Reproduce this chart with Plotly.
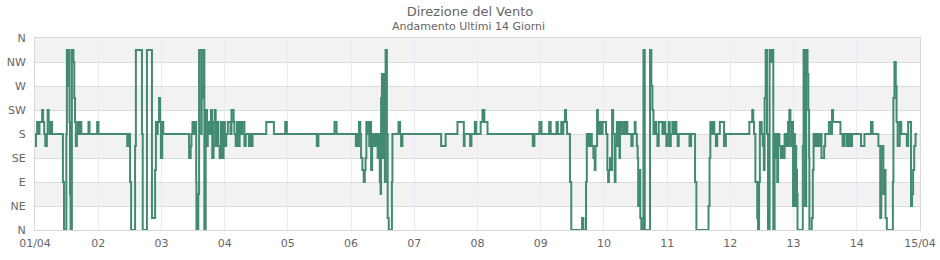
import datetime as dt
import plotly.graph_objects as go

# Hours since 01/04 00:00 at which the wind direction changes
hours = [
    0.0, 0.4, 0.8, 1.4, 1.7, 2.7, 3.1, 3.5, 3.9, 4.5, 4.8, 5.2, 5.6, 6.0, 6.5,
    10.6, 11.0, 11.9, 12.1, 12.6, 12.8, 13.1, 13.3, 13.5, 14.0, 14.6, 14.9, 15.2, 15.5, 15.9,
    16.3, 16.7, 17.2, 17.6, 20.3, 20.7, 23.6, 24.1, 35.0, 35.4, 36.1, 36.5, 38.0, 38.3, 40.6,
    40.9, 42.5, 44.4, 45.6, 45.9, 46.3, 46.6, 47.1, 47.5, 47.8, 48.3, 48.7,
    58.5, 59.1, 59.4, 59.8, 60.3, 60.8, 61.2, 61.3, 62.0, 62.3, 63.1, 63.3, 63.6, 63.9, 64.3,
    64.8, 65.0, 65.3, 65.6, 66.3, 66.8, 67.3, 67.8, 68.3, 68.6, 69.1, 69.6, 70.1, 70.6, 71.1,
    71.6, 72.1, 72.6, 73.2, 74.2, 74.6, 75.4, 75.7, 76.2, 76.7, 77.2, 77.7, 78.2, 78.7, 79.5,
    80.0, 81.2, 81.6, 82.1, 82.6, 87.8, 90.7, 95.0, 95.6,
    107.0, 107.6, 113.7, 114.5, 121.8, 122.3, 122.7, 123.0, 123.5, 123.8, 124.3, 124.8, 125.2,
    125.5, 125.8, 126.3, 126.6, 126.9, 127.3, 127.6, 128.0, 128.3, 128.6, 129.0, 129.4, 129.8,
    130.1, 130.5, 130.9, 131.2, 131.4, 131.7, 132.0, 132.3, 132.5, 132.8, 133.1, 133.6, 133.9,
    134.3, 135.5, 135.7, 138.0, 138.6, 139.0, 139.5,
    154.2, 155.9, 160.4, 162.8, 163.1, 165.2, 165.7, 167.0, 167.5, 169.2, 169.9, 170.6, 171.8,
    189.0, 189.6, 191.5, 192.3,
    195.2, 195.8, 198.0, 198.5, 199.8, 200.3, 200.6, 201.2, 201.6, 202.0, 203.1, 203.6, 207.7,
    208.2, 209.2, 209.5, 209.8, 210.2, 210.6, 211.0, 211.4, 212.0, 212.5, 212.8, 213.4, 213.7,
    214.0, 214.4, 214.9, 215.5, 216.8, 217.3, 217.6, 217.9, 218.3, 218.6, 219.1, 219.5, 220.1,
    220.4, 220.9, 221.4, 221.9, 222.1, 222.6, 223.4, 223.9, 224.4, 224.9, 226.4, 226.9, 227.7,
    228.0, 228.5, 228.8, 229.0, 229.5, 229.8, 230.2, 231.0, 231.5, 233.5, 234.0, 234.4, 234.8,
    235.3, 235.8, 236.3, 236.8, 238.2, 238.8, 239.3, 239.7,
    240.2, 240.6, 241.0, 241.4, 242.0, 242.6, 243.0, 243.5, 244.0, 244.4, 248.5, 249.1, 250.6,
    251.1, 255.7, 256.1, 256.4, 257.0, 257.4, 257.9, 258.5, 259.0, 260.0, 261.6, 262.3, 271.2,
    272.3, 272.7, 273.0, 273.5, 274.2, 274.5, 274.9, 275.2, 275.9, 276.3, 276.7, 277.0, 277.4,
    277.9, 278.3, 278.9, 279.6, 279.9, 280.3, 280.8, 281.1, 281.4, 281.8, 282.1, 282.6, 283.1,
    283.6, 284.1, 284.6, 285.1, 285.5, 285.9, 286.2, 286.4, 286.8, 287.2, 287.5, 287.8,
    288.0, 288.3, 288.5, 288.8, 289.0, 289.3, 289.5, 291.5, 291.8, 292.3, 292.8, 293.3, 293.6,
    293.9, 294.0, 294.9, 295.3, 295.6, 296.2, 296.7, 297.4, 298.0, 298.6, 299.6, 300.0, 301.4,
    302.2, 302.6, 303.0, 305.8, 306.6, 307.3, 308.2, 308.6, 309.0, 309.5, 309.8, 310.2, 313.6,
    314.9, 317.4, 318.0, 320.2, 320.9, 321.3, 321.7, 322.1, 322.4, 322.9, 323.4, 325.7, 325.9,
    326.3, 326.8, 327.1, 327.5, 328.3, 328.9, 331.0, 331.5, 332.6, 333.0, 333.4, 333.8, 334.3,
    334.9,
]

# Direction on a 16-point compass index (0 = N, 4 = E, 8 = S, 12 = W, 16 = N)
points = [
    7, 8, 9, 8, 9, 10, 9, 8, 7, 8, 10, 9, 8, 9, 8,
    4, 0, 8, 15, 12, 15, 9, 3, 0, 15, 14, 11, 9, 7, 8,
    9, 8, 9, 8, 9, 8, 9, 8, 7, 8, 4, 0, 7, 15, 8,
    0, 15, 1, 5, 9, 8, 9, 11, 9, 6, 9, 8,
    6, 7, 8, 9, 8, 9, 4, 0, 3, 15, 8, 12, 11, 15, 0,
    7, 10, 7, 9, 8, 10, 6, 9, 10, 7, 9, 7, 6, 9, 6,
    9, 7, 8, 9, 8, 10, 9, 8, 7, 9, 7, 9, 8, 9, 7,
    8, 7, 8, 7, 8, 9, 8, 9, 8,
    7, 8, 9, 8, 7, 8, 7, 9, 8, 6, 5, 4, 5,
    6, 9, 8, 9, 7, 9, 5, 7, 8, 7, 8, 7, 8,
    6, 8, 4, 3, 11, 13, 6, 13, 10, 4, 15, 8, 1,
    0, 4, 8, 9, 8, 7, 8,
    7, 8, 9, 7, 8, 7, 8, 9, 8, 9, 10, 9, 8,
    7, 8, 9, 8,
    9, 8, 9, 8, 9, 8, 9, 10, 9, 8, 4, 0, 1,
    0, 4, 8, 7, 8, 7, 8, 7, 6, 5, 7, 10, 9,
    8, 9, 8, 9, 8, 5, 4, 5, 6, 5, 10, 8, 4,
    7, 9, 7, 6, 9, 8, 9, 8, 9, 8, 7, 8, 9,
    8, 7, 6, 2, 5, 1, 0, 15, 0, 15, 12, 10, 8,
    9, 8, 7, 9, 8, 9, 8, 7,
    8, 9, 7, 8, 9, 8, 9, 8, 7, 8, 7, 8, 4,
    0, 2, 6, 9, 8, 9, 8, 7, 8, 9, 7, 8, 9,
    10, 9, 8, 4, 1, 0, 4, 9, 8, 7, 5, 11, 15,
    8, 0, 15, 14, 15, 0, 8, 6, 8, 4, 8, 7, 6,
    7, 6, 8, 7, 8, 9, 7, 10, 9, 7, 9, 2,
    4, 8, 2, 7, 5, 3, 0, 7, 15, 2, 15, 13, 10,
    6, 0, 1, 5, 8, 7, 8, 7, 8, 6, 7, 8, 9,
    8, 10, 9, 8, 7, 8, 7, 8, 7, 8, 7, 8, 7,
    8, 9, 8, 7, 1, 6, 7, 3, 5, 1, 0, 4, 11,
    14, 12, 9, 7, 9, 8, 7, 9, 2, 3, 5, 7, 8,
    8,
]

tick_pos = [0, 2, 4, 6, 8, 10, 12, 14, 16]
tick_labels = ["N", "NE", "E", "SE", "S", "SW", "W", "NW", "N"]
day_labels = ["01/04", "02", "03", "04", "05", "06", "07", "08", "09", "10",
              "11", "12", "13", "14", "15/04"]

start = dt.datetime(2025, 4, 1)
xs = [start + dt.timedelta(hours=h) for h in hours]
day_ticks = [start + dt.timedelta(days=i) for i in range(len(day_labels))]

fig = go.Figure()
fig.add_trace(go.Scatter(
    x=xs, y=points, mode="lines", line=dict(color="#428a70", width=2, shape="hv"),
    showlegend=False, hoverinfo="skip",
))

band_color = "#f2f2f2"
for lo in (2, 6, 10, 14):
    fig.add_shape(type="rect", xref="paper", yref="y", x0=0, x1=1, y0=lo, y1=lo + 2,
                  fillcolor=band_color, line=dict(width=0), layer="below")

font = "DejaVu Sans"
fig.update_layout(
    width=940, height=260,
    margin=dict(l=35, r=20, t=38, b=30, autoexpand=False),
    paper_bgcolor="white", plot_bgcolor="white",
    font=dict(family=font, size=11, color="#666666"),
    title=dict(text="Direzione del Vento", x=0.5, xanchor="center", y=1 - 11 / 260,
               yanchor="middle", yref="container",
               font=dict(family=font, size=13, color="#666666")),
    annotations=[dict(text="Andamento Ultimi 14 Giorni", xref="paper", yref="paper",
                      x=(468 - 35) / 885, y=(230 - 26) / 192, xanchor="center",
                      yanchor="middle", showarrow=False,
                      font=dict(family=font, size=11, color="#666666"))],
)
fig.update_xaxes(
    range=[day_ticks[0], day_ticks[-1]], tickvals=day_ticks, ticktext=day_labels,
    showgrid=True, gridcolor="#ebe9f7", gridwidth=1, automargin=False,
    showline=True, linecolor="#d9d9d9", linewidth=1, mirror=True,
    ticks="", ticklabelstandoff=3, tickfont=dict(size=11, color="#666666"), zeroline=False,
)
fig.update_yaxes(
    range=[0, 16], tickvals=tick_pos, ticktext=tick_labels, automargin=False,
    showgrid=True, gridcolor="#dddddd", gridwidth=1,
    showline=True, linecolor="#d9d9d9", linewidth=1, mirror=True,
    ticks="", ticklabelstandoff=6, tickfont=dict(size=11, color="#666666"), zeroline=False,
)

fig.write_html("out.html")
